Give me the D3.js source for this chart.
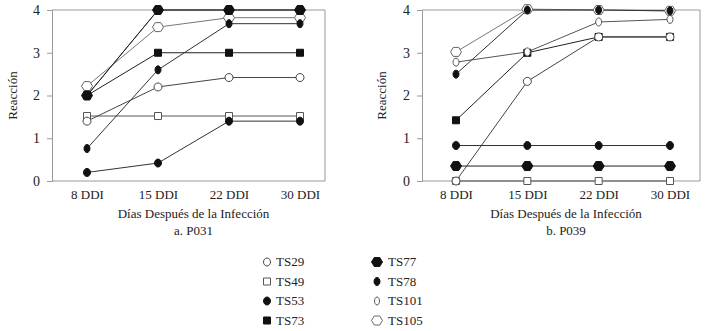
<!DOCTYPE html>
<html>
<head>
<meta charset="utf-8">
<script src="https://cdn.jsdelivr.net/npm/d3@7"></script>
<style>
  body { margin: 0; background: #fff; }
  svg { display: block; }
</style>
</head>
<body>
<div id="chart"></div>
<script>
const width = 719;
const height = 331;

const days = ["8 DDI", "15 DDI", "22 DDI", "30 DDI"];
const yTicks = [0, 1, 2, 3, 4];
const strains = ["TS29", "TS49", "TS53", "TS73", "TS77", "TS78", "TS101", "TS105"];

// P031 values per strain
const p031 = {
    TS29: [1.4, 2.2, 2.42, 2.42],
    TS49: [1.52, 1.52, 1.52, 1.52],
    TS53: [0.2, 0.42, 1.4, 1.4],
    TS73: [2.0, 3.0, 3.0, 3.0],
    TS77: [2.0, 4.0, 4.0, 4.0],
    TS78: [0.76, 2.6, 3.68, 3.68],
    TS101: [2.0, 4.0, 4.0, 4.0],
    TS105: [2.22, 3.6, 3.82, 3.82]
};

// P039 values per strain
const p039 = {
    TS29: [0.0, 2.33, 3.37, 3.37],
    TS49: [0.0, 0.0, 0.0, 0.0],
    TS53: [0.83, 0.83, 0.83, 0.83],
    TS73: [1.42, 3.0, 3.37, 3.37],
    TS77: [0.35, 0.35, 0.35, 0.35],
    TS78: [2.5, 4.0, 4.0, 3.98],
    TS101: [2.78, 3.02, 3.72, 3.78],
    TS105: [3.02, 4.02, 4.0, 3.98]
};

// marker look per strain
const markers = {
    TS29:  { shape: "ellipse", w: 8, h: 8, fill: "#fff", stroke: "#444", line: "#444" },
    TS49:  { shape: "square", w: 7, h: 7, fill: "#fff", stroke: "#555", line: "#555" },
    TS53:  { shape: "ellipse", w: 7, h: 8, fill: "#111", stroke: "#111", line: "#333" },
    TS73:  { shape: "square", w: 7, h: 7, fill: "#111", stroke: "#111", line: "#222" },
    TS77:  { shape: "hexagon", w: 11, h: 9, fill: "#111", stroke: "#111", line: "#222" },
    TS78:  { shape: "ellipse", w: 6, h: 8, fill: "#111", stroke: "#111", line: "#333" },
    TS101: { shape: "ellipse", w: 6, h: 8, fill: "#fff", stroke: "#555", line: "#555" },
    TS105: { shape: "hexagon", w: 11, h: 9, fill: "#fff", stroke: "#666", line: "#777" }
};

// order in which series are painted (later ones sit on top)
const drawOrder = ["TS49", "TS73", "TS101", "TS105", "TS77", "TS29", "TS53", "TS78"];

function markerPath(m) {
    const w = m.w / 2, h = m.h / 2;
    if (m.shape === "square") {
        return `M${-w},${-h}H${w}V${h}H${-w}Z`;
    }
    if (m.shape === "hexagon") {
        return `M${-w},0L${-w / 2},${-h}L${w / 2},${-h}L${w},0L${w / 2},${h}L${-w / 2},${h}Z`;
    }
    const k = 0.5523;
    return `M0,${-h}C${w * k},${-h} ${w},${-h * k} ${w},0C${w},${h * k} ${w * k},${h} 0,${h}` +
           `C${-w * k},${h} ${-w},${h * k} ${-w},0C${-w},${-h * k} ${-w * k},${-h} 0,${-h}Z`;
}

const font = "'Liberation Serif', 'Times New Roman', serif";

const svg = d3.select("#chart")
    .append("svg")
    .attr("width", width)
    .attr("height", height)
    .style("font-family", font);

const panels = [
    { values: p031, caption: "a. P031", left: 52, right: 325, first: 87, last: 300, labelX: 40, titleX: 12 },
    { values: p039, caption: "b. P039", left: 422, right: 700, first: 456, last: 670, labelX: 410, titleX: 381 }
];

const plotTop = 10, plotBottom = 181;
const y = d3.scaleLinear().domain([0, 4]).range([plotBottom, plotTop]);

panels.forEach(p => {
    const x = d3.scalePoint().domain(days).range([p.first, p.last]);
    const g = svg.append("g");

    // frame: top and right edges
    g.append("path")
        .attr("d", `M${p.left},${plotTop}H${p.right}V${plotBottom}`)
        .attr("fill", "none")
        .attr("stroke", "#999")
        .attr("stroke-width", 1);

    // y axis
    const yAxis = g.append("g")
        .attr("transform", `translate(${p.left},0)`)
        .call(d3.axisLeft(y).tickValues(yTicks).tickSize(5).tickFormat(d3.format("d")));
    yAxis.select(".domain").attr("stroke", "#999");
    yAxis.selectAll(".tick line").attr("stroke", "#999");
    yAxis.selectAll(".tick text")
        .attr("x", p.labelX - p.left)
        .style("font-family", font)
        .style("font-size", "14px")
        .attr("fill", "#222");

    // x axis
    const xAxis = g.append("g")
        .attr("transform", `translate(0,${plotBottom})`)
        .call(d3.axisBottom(x).tickSize(0).tickPadding(9));
    xAxis.select(".domain")
        .attr("d", `M${p.left},0H${p.right}`)
        .attr("stroke", "#999");
    xAxis.selectAll(".tick text")
        .style("font-family", font)
        .style("font-size", "13px")
        .attr("fill", "#222");

    // titles
    g.append("text")
        .attr("transform", `translate(${p.titleX},${(plotTop + plotBottom) / 2}) rotate(-90)`)
        .attr("text-anchor", "middle")
        .attr("dy", "0.35em")
        .style("font-size", "13px")
        .attr("fill", "#222")
        .text("Reacción");

    g.append("text")
        .attr("x", (p.left + p.right) / 2 + 5)
        .attr("y", 218)
        .attr("text-anchor", "middle")
        .style("font-size", "13px")
        .attr("fill", "#222")
        .text("Días Después de la Infección");

    g.append("text")
        .attr("x", (p.left + p.right) / 2 + 5)
        .attr("y", 235)
        .attr("text-anchor", "middle")
        .style("font-size", "13px")
        .attr("fill", "#222")
        .text(p.caption);

    const line = d3.line()
        .x((d, i) => x(days[i]))
        .y(d => y(d));

    // lines first, then markers
    drawOrder.forEach(s => {
        g.append("path")
            .datum(p.values[s])
            .attr("d", line)
            .attr("fill", "none")
            .attr("stroke", markers[s].line)
            .attr("stroke-width", 1);
    });

    drawOrder.forEach(s => {
        const m = markers[s];
        g.selectAll(null)
            .data(p.values[s])
            .enter()
            .append("path")
            .attr("transform", (d, i) => `translate(${x(days[i])},${y(d)})`)
            .attr("d", markerPath(m))
            .attr("fill", m.fill)
            .attr("stroke", m.stroke)
            .attr("stroke-width", 1);
    });
});

// legend in two columns
const legend = svg.selectAll("g.legend")
    .data(strains)
    .enter()
    .append("g")
    .attr("class", "legend")
    .attr("transform", (d, i) => `translate(${i < 4 ? 267 : 377},${262 + (i % 4) * 19.5})`);

legend.append("path")
    .attr("d", d => {
        const m = markers[d];
        const small = m.shape === "ellipse" && m.fill === "#fff" ? { ...m, w: m.w - 1 } : m;
        return markerPath(small);
    })
    .attr("fill", d => markers[d].fill)
    .attr("stroke", d => markers[d].stroke)
    .attr("stroke-width", 1);

legend.append("text")
    .attr("x", (d, i) => i < 4 ? 9 : 11)
    .attr("y", 4)
    .style("font-size", "13px")
    .attr("fill", "#222")
    .text(d => d);
</script>
</body>
</html>
